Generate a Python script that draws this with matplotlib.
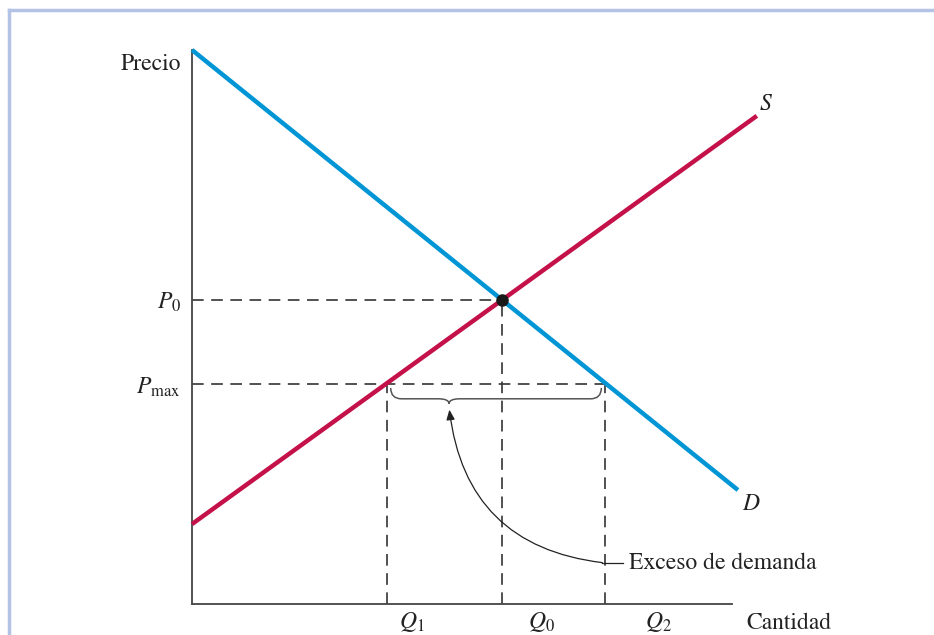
import matplotlib
matplotlib.use("Agg")
import matplotlib.pyplot as plt
from matplotlib.patches import FancyArrowPatch
from matplotlib.path import Path
from matplotlib.patches import PathPatch
from matplotlib.lines import Line2D

plt.rcParams['font.family'] = ['STIXGeneral', 'DejaVu Serif']
plt.rcParams['mathtext.fontset'] = 'stix'

# ---- data (arbitrary units) ----
demand_q = [0.0, 10.11]
demand_p = [10.26, 2.11]
supply_q = [0.0, 10.46]
supply_p = [1.48, 9.04]
Q0, P0 = 5.74, 5.63
Pmax = 4.07
Q1, Q2 = 3.61, 7.65
q_labels = ['$Q_1$', '$Q_0$', '$Q_2$']
q_label_pos = [4.07, 6.48, 8.63]
p_labels = ['$P_0$', '$P_{\\mathrm{max}}$']

W, H = 934, 635
fig = plt.figure(figsize=(W / 100, H / 100), dpi=100)
fig.patch.set_facecolor('white')

# frame border (light blue) top and left
border = '#b3c3e6'
fig.add_artist(Line2D([9 / W, 1], [1 - 10 / H, 1 - 10 / H], color=border, lw=2.5, transform=fig.transFigure))
fig.add_artist(Line2D([9 / W, 9 / W], [0, 1 - 10 / H], color=border, lw=2.5, transform=fig.transFigure))

left, right, top, bottom = 192, 732, 50, 604
ax = fig.add_axes([left / W, 1 - bottom / H, (right - left) / W, (bottom - top) / H])
ax.set_xlim(0, (right - left) / 54)
ax.set_ylim(0, (bottom - top) / 54)
for s in ['top', 'right']:
    ax.spines[s].set_visible(False)
for s in ['left', 'bottom']:
    ax.spines[s].set_color('#444444')
    ax.spines[s].set_linewidth(1.3)
ax.set_facecolor('none')

ax.set_xticks([])
ax.set_yticks([P0, Pmax])
ax.set_yticklabels(p_labels, fontsize=17, color='#222222')
ax.tick_params(length=0, pad=8)

for lab, xp in zip(q_labels, q_label_pos):
    ax.text(xp, -0.33, lab, ha='center', va='center', fontsize=17, color='#222222', clip_on=False)

# curves
ax.plot(demand_q, demand_p, color='#0095d5', lw=3.2, solid_capstyle='butt', clip_on=False, zorder=3)
ax.plot(supply_q, supply_p, color='#c5114a', lw=3.2, solid_capstyle='butt', clip_on=False, zorder=3)
ax.plot([Q0], [P0], 'o', color='#1a1a1a', ms=8, zorder=5)

dash = dict(color='#333333', lw=1.2, dashes=(7, 4.5), zorder=2)
ax.plot([0, Q0], [P0, P0], **dash)
ax.plot([Q0, Q0], [0, P0], **dash)
ax.plot([0, Q2], [Pmax, Pmax], **dash)
ax.plot([Q1, Q1], [0, Pmax], **dash)
ax.plot([Q2, Q2], [0, Pmax], **dash)

# labels
ax.text(-0.2, ax.get_ylim()[1] - 0.27, 'Precio', ha='right', va='center', fontsize=17, color='#222222')
ax.text(10.27, -0.36, 'Cantidad', ha='left', va='center', fontsize=17, color='#222222', clip_on=False)
ax.text(10.5, 9.05, '$S$', ha='left', va='bottom', fontsize=17, color='#222222', clip_on=False)
ax.text(10.18, 2.05, '$D$', ha='left', va='top', fontsize=17, color='#222222', clip_on=False)

# brace under Pmax between Q1 and Q2
bx0, bx1 = Q1 + 0.07, Q2 - 0.07
cx = 4.76
ytop, ymid, ytip = Pmax - 0.07, Pmax - 0.27, Pmax - 0.36
r = 0.2
verts = [(bx0, ytop), (bx0, ymid), (bx0 + r, ymid),
         (cx - r, ymid), (cx, ymid), (cx, ytip),
         (cx, ymid), (cx + r, ymid),
         (bx1 - r, ymid), (bx1, ymid), (bx1, ytop)]
codes = [Path.MOVETO, Path.CURVE3, Path.CURVE3,
         Path.LINETO, Path.CURVE3, Path.CURVE3,
         Path.CURVE3, Path.CURVE3,
         Path.LINETO, Path.CURVE3, Path.CURVE3]
ax.add_patch(PathPatch(Path(verts, codes), fill=False, color='#555555', lw=1.1, zorder=2))

# excess-demand annotation
ax.plot([Q2 - 0.05, Q2 + 0.33], [0.76, 0.76], color='#222222', lw=0.9, zorder=4)
arrow = FancyArrowPatch((Q2 + 0.0, 0.76), (cx, ytip - 0.06),
                        connectionstyle='arc3,rad=-0.4', arrowstyle='-|>,head_length=6,head_width=2.5',
                        color='#222222', lw=0.9, zorder=4)
ax.add_patch(arrow)
ax.text(Q2 + 0.45, 0.76, 'Exceso de demanda', ha='left', va='center', fontsize=17, color='#222222')

fig.savefig('out.png', dpi=100, facecolor='white')
